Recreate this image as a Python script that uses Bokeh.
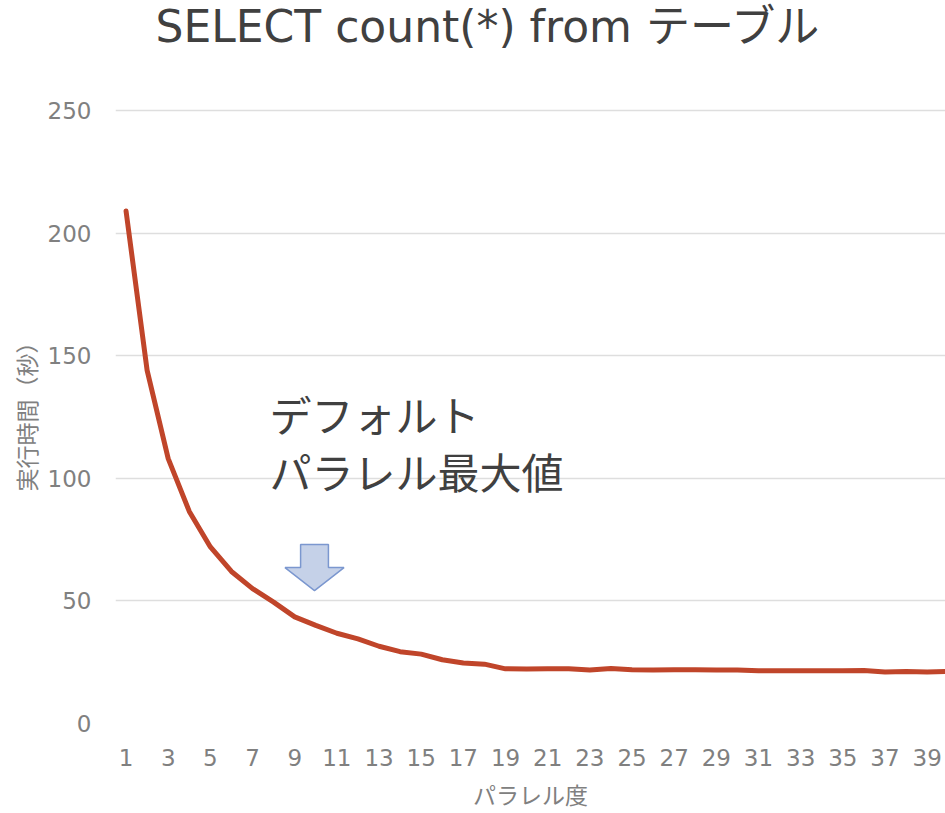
from bokeh.plotting import figure
from bokeh.layouts import column
from bokeh.models import Range1d, FixedTicker, Label
from bokeh.embed import file_html
from bokeh.resources import INLINE

# Parallel degree (x) vs. elapsed time in seconds (y)
parallel_degree = [1, 2, 3, 4, 5, 6, 7, 8, 9, 10,
                   11, 12, 13, 14, 15, 16, 17, 18, 19, 20,
                   21, 22, 23, 24, 25, 26, 27, 28, 29, 30,
                   31, 32, 33, 34, 35, 36, 37, 38, 39, 40]
exec_seconds = [209.0, 144.0, 108.0, 86.5, 72.0, 62.0, 55.0, 49.5, 43.5, 40.0,
                36.8, 34.5, 31.5, 29.3, 28.3, 26.0, 24.7, 24.2, 22.3, 22.2,
                22.3, 22.3, 21.8, 22.4, 21.9, 21.8, 21.9, 21.9, 21.8, 21.8,
                21.5, 21.5, 21.5, 21.5, 21.5, 21.6, 21.0, 21.2, 21.0, 21.2]

x_ticks = [1, 3, 5, 7, 9, 11, 13, 15, 17, 19,
           21, 23, 25, 27, 29, 31, 33, 35, 37, 39]
x_tick_labels = [str(v) for v in x_ticks]
y_ticks = [0, 50, 100, 150, 200, 250]

title_text = "SELECT count(*) from テーブル"
x_label = "パラレル度"
y_label = "実行時間（秒）"
note_lines = ["デフォルト", "パラレル最大値"]
default_max_parallel = 10

FONT = "DejaVu Sans, Noto Sans CJK JP"
TEXT_DARK = "#404040"
TEXT_GREY = "#808080"
GRID = "#dedede"
LINE = "#c0452a"

W, HEAD_H, H = 945, 98, 813
LEFT = 115

# header strip holding the chart title (its frame lines up with the chart frame)
head = figure(width=W, height=HEAD_H, output_backend="svg", toolbar_location=None,
              x_range=Range1d(LEFT, W), y_range=Range1d(0, HEAD_H),
              x_axis_type=None, y_axis_type=None,
              min_border=0, min_border_left=LEFT, min_border_right=0,
              min_border_top=0, min_border_bottom=0)
head.outline_line_color = None
head.grid.visible = False
head.add_layout(Label(x=155, y=72, text=title_text, text_font=FONT,
                      text_font_size="44px", text_color=TEXT_DARK,
                      text_baseline="alphabetic"))

# main chart
p = figure(width=W, height=H - HEAD_H, output_backend="svg", toolbar_location=None,
           x_range=Range1d(0.5, 39.87), y_range=Range1d(0, 254.9),
           min_border_left=LEFT, min_border_right=0,
           min_border_top=0, min_border_bottom=90)
p.outline_line_color = None
p.background_fill_color = "white"
p.border_fill_color = "white"

# axes: no lines/ticks, only labels
p.xaxis.ticker = FixedTicker(ticks=x_ticks)
p.xaxis.major_label_overrides = {t: l for t, l in zip(x_ticks, x_tick_labels)}
p.yaxis.ticker = FixedTicker(ticks=y_ticks)
for ax in (p.xaxis, p.yaxis):
    ax.axis_line_color = None
    ax.major_tick_line_color = None
    ax.minor_tick_line_color = None
    ax.major_tick_out = 0
    ax.major_tick_in = 0
    ax.major_label_text_font = FONT
    ax.major_label_text_font_size = "23px"
    ax.major_label_text_color = TEXT_GREY
    ax.axis_label_text_font = FONT
    ax.axis_label_text_font_size = "23px"
    ax.axis_label_text_color = TEXT_GREY
    ax.axis_label_text_font_style = "normal"

p.xaxis.axis_label = x_label
p.xaxis.major_label_standoff = 25
p.xaxis.axis_label_standoff = 14
p.yaxis.axis_label = y_label
p.yaxis.major_label_standoff = 24
p.yaxis.axis_label_standoff = 4

p.xgrid.grid_line_color = None
p.ygrid.grid_line_color = GRID
p.ygrid.grid_line_width = 1.5

p.line(parallel_degree, exec_seconds, line_color=LINE, line_width=5,
       line_join="round", line_cap="round")

# down arrow marking the default maximum parallel degree
shaft_half = 0.66
head_half = 1.4
tip_y, shoulder_y, top_y = 54.2, 63.6, 73.0
ax_ = default_max_parallel - 0.06
arrow_xs = [ax_ - shaft_half, ax_ + shaft_half, ax_ + shaft_half, ax_ + head_half,
            ax_, ax_ - head_half, ax_ - shaft_half]
arrow_ys = [top_y, top_y, shoulder_y, shoulder_y, tip_y, shoulder_y, shoulder_y]
p.patch(arrow_xs, arrow_ys, fill_color="#c5d1e8", line_color="#7b97cf", line_width=1.5)

# two-line note above the arrow
for i, line in enumerate(note_lines):
    p.add_layout(Label(x=7.8, y=134.9 - i * 23.5, x_units="data", y_units="data",
                       text=line, text_font=FONT, text_font_size="42px",
                       text_color=TEXT_DARK, text_baseline="top"))

layout = column(head, p, spacing=0)
open("out.html", "w").write(file_html(layout, INLINE))
